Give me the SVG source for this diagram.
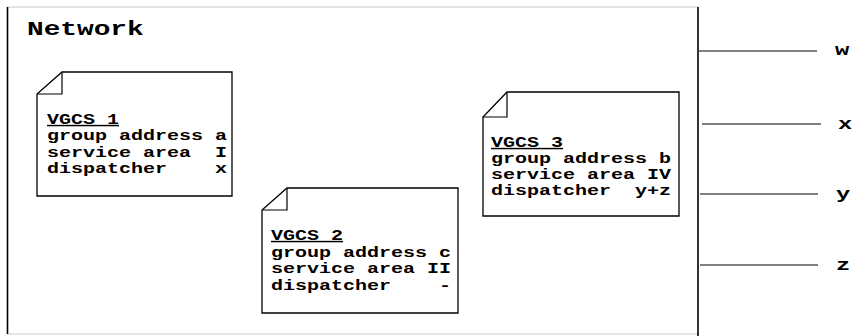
<svg xmlns="http://www.w3.org/2000/svg" width="855" height="336" viewBox="0 0 855 336">
<style>
.frame-light{stroke:#dcdcdc;stroke-width:1.5;fill:none}
.frame-dark{stroke:#000;stroke-width:1.6;fill:none}
.note{fill:#fff;stroke:#000;stroke-width:1.3}
.fold{fill:none;stroke:#000;stroke-width:1.2}
.link{stroke:#555;stroke-width:1.4;fill:none}
text{font-family:"Liberation Mono","Courier New",monospace;font-weight:bold;fill:#000;white-space:pre}
.nt{font-size:14.5px}
.big{font-size:20px}
.lbl{font-size:17px}
</style>
<rect x="0" y="0" width="855" height="336" fill="#fff"/>
<g id="network">
  <line class="frame-light" x1="7" y1="7" x2="698" y2="7"/>
  <line class="frame-light" x1="7" y1="334" x2="698" y2="334"/>
  <line class="frame-dark" x1="7.5" y1="7" x2="7.5" y2="334"/>
  <line class="frame-dark" x1="698" y1="7" x2="698" y2="336" stroke-width="2"/>
  <text class="big" transform="translate(27,35) scale(1.39,1)">Network</text>
</g>
<g id="vgcs1">
  <path class="note" d="M62,72 H232 V196 H37 V94 Z"/>
  <path class="fold" d="M62,72 V94 H37"/>
  <text class="nt" transform="translate(47,124) scale(1.38,1)"><tspan x="0" y="0" text-decoration="underline">VGCS 1</tspan><tspan x="0" y="16.3">group address a</tspan><tspan x="0" y="32.6">service area  I</tspan><tspan x="0" y="48.9">dispatcher    x</tspan></text>
</g>
<g id="vgcs2">
  <path class="note" d="M287,188 H458 V313 H262 V210 Z"/>
  <path class="fold" d="M287,188 V210 H262"/>
  <text class="nt" transform="translate(271,240) scale(1.38,1)"><tspan x="0" y="0" text-decoration="underline">VGCS 2</tspan><tspan x="0" y="16.6">group address c</tspan><tspan x="0" y="33.2">service area II</tspan><tspan x="0" y="49.8">dispatcher    -</tspan></text>
</g>
<g id="vgcs3">
  <path class="note" d="M507,92 H679 V216 H483 V117 Z"/>
  <path class="fold" d="M507,92 V117 H483"/>
  <text class="nt" transform="translate(491,147) scale(1.38,1)"><tspan x="0" y="0" text-decoration="underline">VGCS 3</tspan><tspan x="0" y="16">group address b</tspan><tspan x="0" y="32">service area IV</tspan><tspan x="0" y="48">dispatcher  y+z</tspan></text>
</g>
<g id="connectors">
  <line class="link" x1="699" y1="51" x2="817" y2="51"/>
  <line class="link" x1="702" y1="124" x2="821" y2="124"/>
  <line class="link" x1="700" y1="194" x2="818" y2="194"/>
  <line class="link" x1="700" y1="265" x2="818" y2="265"/>
</g>
<g id="labels">
  <text class="lbl" transform="translate(835,55) scale(1.4,1)">w</text>
  <text class="lbl" transform="translate(838,129) scale(1.4,1)">x</text>
  <text class="lbl" transform="translate(836,199) scale(1.4,1)">y</text>
  <text class="lbl" transform="translate(836,270) scale(1.4,1)">z</text>
</g>
</svg>
